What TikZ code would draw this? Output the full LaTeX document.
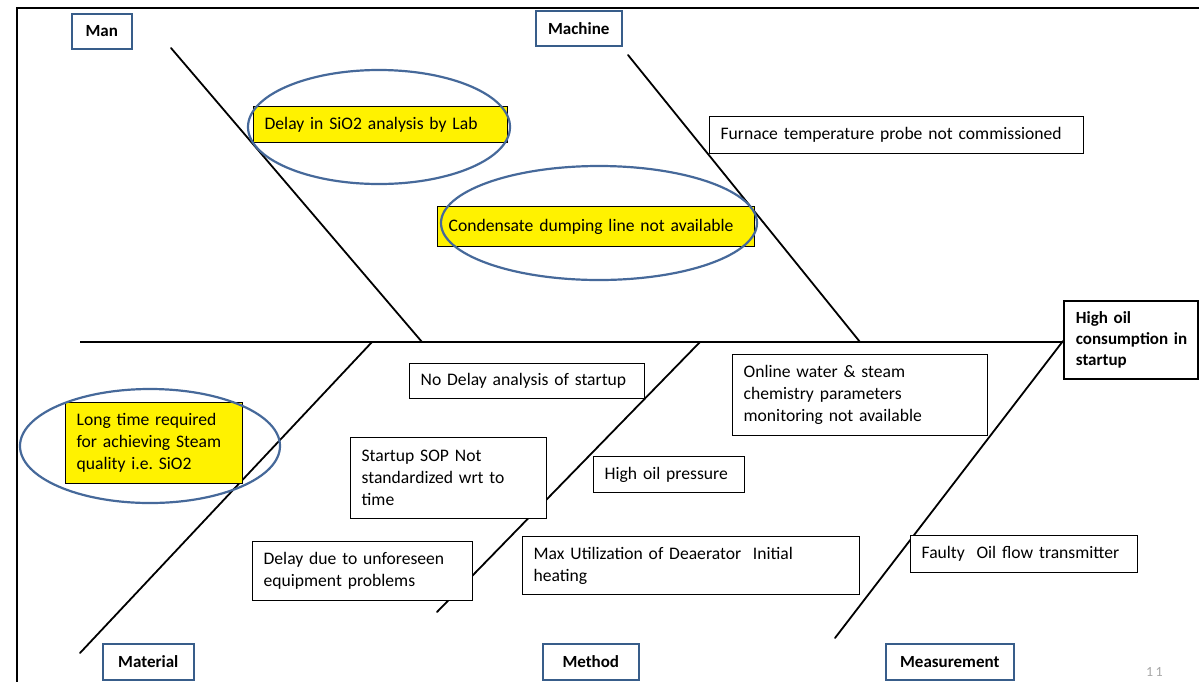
\documentclass[tikz,border=0pt]{standalone}
\usepackage{fontspec}
\setmainfont{Carlito}
\frenchspacing
\usetikzlibrary{shapes.geometric}
\definecolor{lblblue}{HTML}{385D8A}
\definecolor{ellblue}{HTML}{46699A}
\definecolor{pgray}{HTML}{A6A6A6}
\newcommand\cbox[7][cause]{%
  \pgfmathsetmacro\cboxtw{#5-22}%
  \node[#1, minimum width=#5pt, minimum height=#6pt, text width=\cboxtw pt] (#2) at (#3,#4) {#7};}
\newcommand\hin{\hspace*{7pt}}
\begin{document}
\begin{tikzpicture}[x=1pt,y=-1pt,
  lbl/.style={draw=lblblue, line width=1.6pt, fill=white, font=\bfseries\fontsize{17}{19}\selectfont, inner sep=0pt, anchor=north west},
  cause/.style={draw=black, line width=1.3pt, fill=white, font=\fontsize{17.6}{22}\selectfont, align=left, inner xsep=11pt, inner ysep=0pt, anchor=north west},
  yel/.style={cause, fill=yellow},
  ell/.style={ellipse, draw=ellblue, line width=2.2pt, inner sep=0pt},
  bone/.style={line width=1.8pt, line cap=round},
  frame/.style={line width=1.6pt}]
\useasboundingbox (0,0) rectangle (1199,681);
% frame
\draw[frame] (17,682) -- (17,8) -- (1200,8);
% head
\node[draw=black, line width=1.8pt, fill=white, anchor=north west, minimum width=134pt, minimum height=78pt, text width=124pt, inner xsep=5pt, inner ysep=0pt, align=left, font=\bfseries\fontsize{17}{21}\selectfont] (head) at (1063,300) {\hin High oil\\\hin consumption in\\\hin startup};
% bone coordinates
\coordinate (spineL) at (80,342);
\coordinate (manS) at (171,48);
\coordinate (manE) at (422,342);
\coordinate (macS) at (628,55);
\coordinate (macE) at (860,342);
\coordinate (matS) at (372,342);
\coordinate (matE) at (80,653);
\coordinate (metS) at (700,342);
\coordinate (metE) at (437,612);
\coordinate (meaS) at (1063,341);
\coordinate (meaE) at (835,638);
% spine and bones
\draw[line width=2.2pt] (spineL) -- (head.west |- spineL);
\draw[bone] (manS) -- (manE);
\draw[bone] (macS) -- (macE);
\draw[bone] (matS) -- (matE);
\draw[bone] (metS) -- (metE);
\draw[bone] (meaS) -- (meaE);
% category labels
\node[lbl, minimum width=60pt, minimum height=35pt] (man) at (71,13) {Man};
\node[lbl, minimum width=86pt, minimum height=35pt] (machine) at (535,10) {Machine};
\node[lbl, minimum width=91pt, minimum height=36pt] (material) at (102,643) {Material};
\node[lbl, minimum width=96pt, minimum height=36pt] (method) at (542,643) {Method};
\node[lbl, minimum width=128pt, minimum height=36pt] (measurement) at (885,643) {Measurement};
% causes
\cbox[yel]{c1}{253}{106}{254}{36}{Delay in SiO2 analysis by Lab}
\cbox[yel]{c2}{437}{206}{317}{40}{Condensate dumping line not available}
\cbox{c3}{709}{116}{374}{37}{Furnace temperature probe not commissioned}
\cbox[yel]{c4}{65}{402}{177}{81}{Long time required\\for achieving Steam\\quality i.e. SiO2}
\cbox{c5}{409}{363}{235}{35}{No Delay analysis of startup}
\cbox{c6}{350}{437}{196}{81}{Startup SOP Not\\standardized wrt to\\time}
\cbox{c7}{732}{354}{255}{81}{Online water \& steam\\chemistry parameters\\monitoring not available}
\cbox{c8}{593}{456}{151}{36}{High oil pressure}
\cbox{c9}{252}{541}{220}{59}{Delay due to unforeseen\\equipment problems}
\cbox{c10}{522}{536}{337}{58}{Max Utilization of Deaerator\ \ Initial\\heating}
\cbox{c11}{910}{535}{227}{37}{Faulty\ \ Oil flow transmitter}
% highlight ellipses
\node[ell, minimum width=262pt, minimum height=114pt] (e1) at (379,127) {};
\node[ell, minimum width=316pt, minimum height=114pt] (e2) at (599,223) {};
\node[ell, minimum width=260pt, minimum height=114pt] (e3) at (150,446) {};
% page number
\node[anchor=north west, inner sep=0pt, text=pgray, font=\fontsize{14}{14}\selectfont] (pg) at (1146,667) {1\,1};
\end{tikzpicture}
\end{document}
